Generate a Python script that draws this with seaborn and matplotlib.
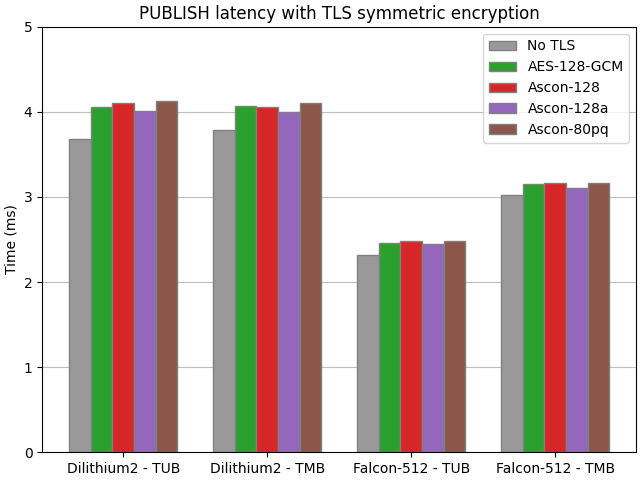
import matplotlib
matplotlib.use("Agg")
import matplotlib.pyplot as plt
import numpy as np
import pandas as pd
import seaborn as sns

# data
categories = ["Dilithium2 - TUB", "Dilithium2 - TMB", "Falcon-512 - TUB", "Falcon-512 - TMB"]
modes = ["No TLS", "AES-128-GCM", "Ascon-128", "Ascon-128a", "Ascon-80pq"]
no_tls = [3.68, 3.79, 2.32, 3.02]
aes_gcm = [4.06, 4.07, 2.455, 3.15]
ascon128 = [4.11, 4.055, 2.48, 3.17]
ascon128a = [4.01, 4.00, 2.45, 3.105]
ascon80pq = [4.13, 4.11, 2.485, 3.16]
colors = ["#999999", "#2ca02c", "#d62728", "#9467bd", "#8c564b"]

rows = []
for mode, vals in zip(modes, [no_tls, aes_gcm, ascon128, ascon128a, ascon80pq]):
    for cat, v in zip(categories, vals):
        rows.append({"config": cat, "mode": mode, "time": v})
df = pd.DataFrame(rows)

fig, ax = plt.subplots(figsize=(6.4, 4.8), dpi=100)
sns.barplot(data=df, x="config", y="time", hue="mode", order=categories,
            hue_order=modes, palette=colors, width=0.75, gap=0,
            edgecolor="gray", linewidth=1, saturation=1, ax=ax)

ax.set_axisbelow(True)
ax.yaxis.grid(True, color="#bfbfbf", linewidth=0.8)
ax.set_ylim(0, 5)
ax.set_xlim(-0.5625, 3.5625)
ax.set_xlabel("")
ax.set_ylabel("Time (ms)")
ax.set_title("PUBLISH latency with TLS symmetric encryption")
ax.legend(loc="upper right", title=None)

fig.subplots_adjust(left=0.066, right=0.994, bottom=0.058, top=0.944)
plt.savefig("out.png", dpi=100)
